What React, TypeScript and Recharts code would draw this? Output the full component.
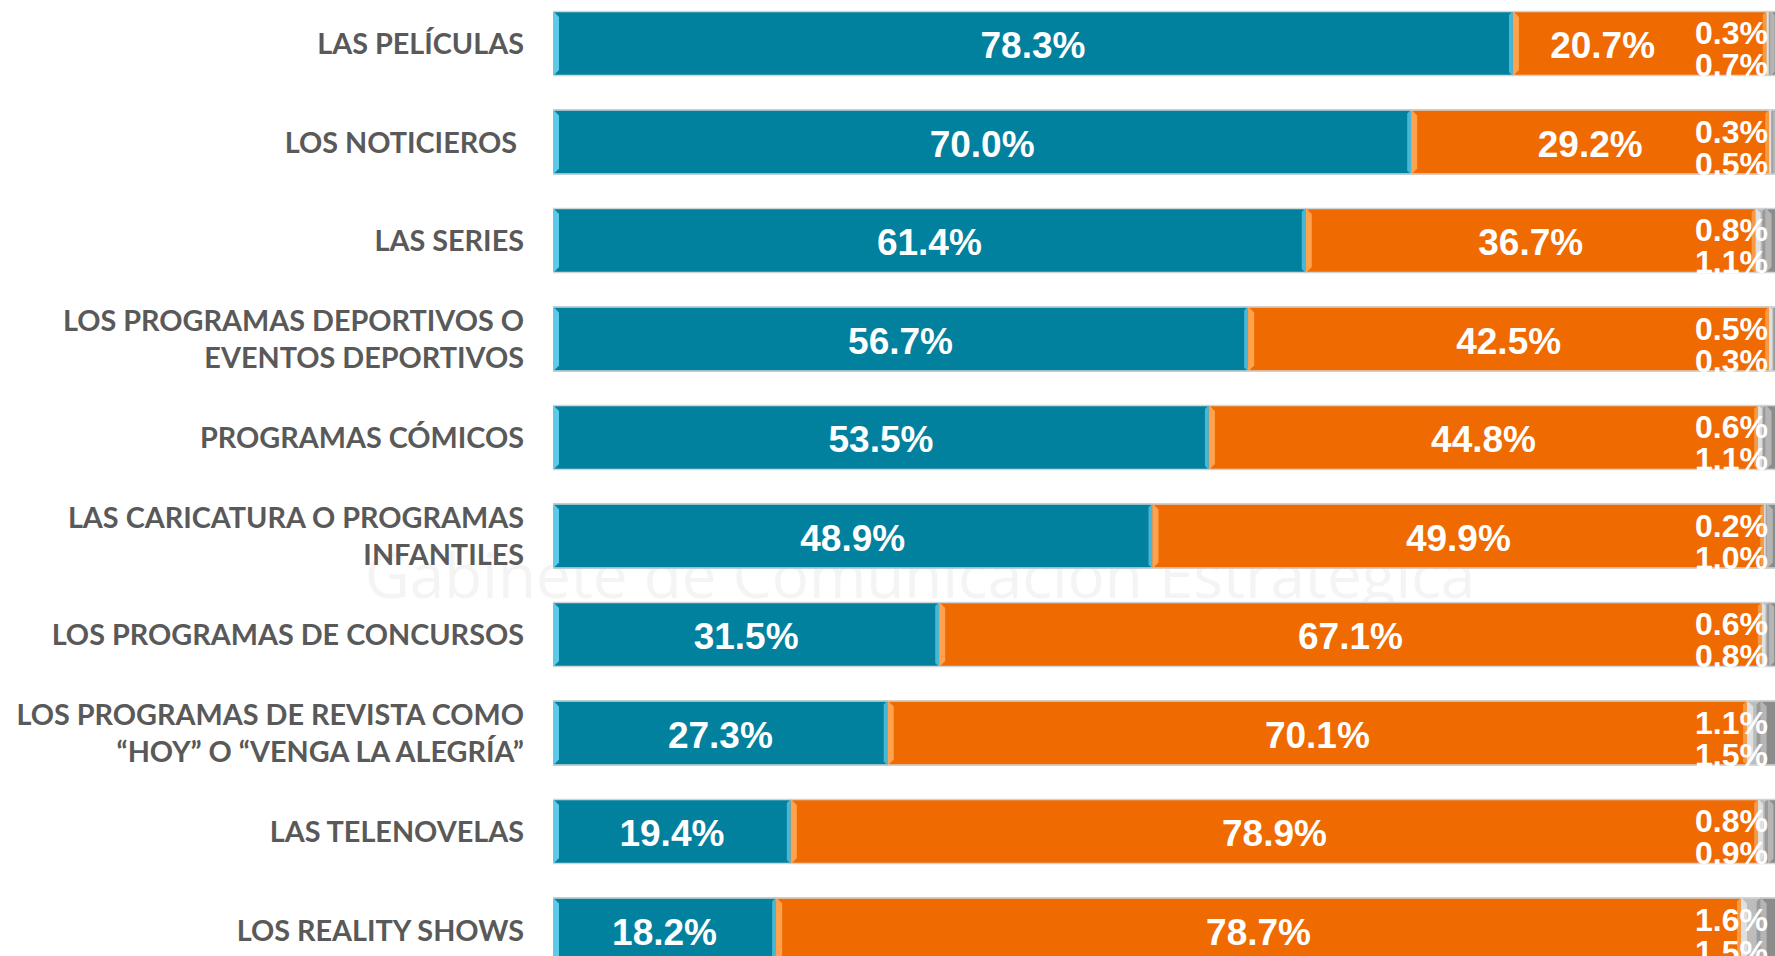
import { BarChart, Bar, XAxis, YAxis, LabelList } from 'recharts';

const categories = [
  'LAS PELÍCULAS',
  'LOS NOTICIEROS\u00A0',
  'LAS SERIES',
  'LOS PROGRAMAS DEPORTIVOS O\nEVENTOS DEPORTIVOS',
  'PROGRAMAS CÓMICOS',
  'LAS CARICATURA O PROGRAMAS\nINFANTILES',
  'LOS PROGRAMAS DE CONCURSOS',
  'LOS PROGRAMAS DE REVISTA COMO\n“HOY” O “VENGA LA ALEGRÍA”',
  'LAS TELENOVELAS',
  'LOS REALITY SHOWS',
];

const siValues = [78.3, 70.0, 61.4, 56.7, 53.5, 48.9, 31.5, 27.3, 19.4, 18.2];
const noValues = [20.7, 29.2, 36.7, 42.5, 44.8, 49.9, 67.1, 70.1, 78.9, 78.7];
const nsValues = [0.3, 0.3, 0.8, 0.5, 0.6, 0.2, 0.6, 1.1, 0.8, 1.6];
const ncValues = [0.7, 0.5, 1.1, 0.3, 1.1, 1.0, 0.8, 1.5, 0.9, 1.5];

const data = categories.map((name, i) => ({
  name,
  si: siValues[i],
  no: noValues[i],
  ns: nsValues[i],
  nc: ncValues[i],
}));

const CHART_W = 1779;
const AXIS_W = 553;
const LABEL_RIGHT = 524;
const SMALL_RIGHT = 1768;
const BIG_FONT = 37;
const SMALL_FONT = 32;
const pct = (v: number) => `${v.toFixed(1)}%`;
const FONT = "'Liberation Sans', Arial, sans-serif";

function CategoryTick({ y, payload }: any) {
  const lines = String(payload.value).split('\n');
  const lh = 37;
  const start = y - ((lines.length - 1) * lh) / 2;
  return (
    <text
      x={LABEL_RIGHT}
      y={start}
      textAnchor="end"
      fill="#595959"
      fontFamily="Lato, 'DejaVu Sans', sans-serif"
      fontWeight={700}
      fontSize={28.8}
      dominantBaseline="central"
    >
      {lines.map((l, i) => (
        <tspan key={i} x={LABEL_RIGHT} dy={i === 0 ? 0 : lh}>
          {l}
        </tspan>
      ))}
    </text>
  );
}

function bevelShape(light: string, edge: string) {
  return (props: any) => {
    const { x, y, width, height, fill } = props;
    if (!width || width <= 0) return <g />;
    const b = Math.min(6, width / 2);
    const r = Math.min(4, width / 3);
    return (
      <g>
        <rect x={x} y={y} width={width} height={height} fill={fill} />
        <polygon
          points={`${x},${y} ${x + b},${y + b} ${x + b},${y + height - b} ${x},${y + height}`}
          fill={light}
        />
        <polygon
          points={`${x + width},${y} ${x + width - r},${y + r} ${x + width - r},${y + height - r} ${x + width},${y + height}`}
          fill={edge}
        />
        <line x1={x} x2={x + width} y1={y + 0.5} y2={y + 0.5} stroke="#cfd6d9" strokeWidth={1.5} />
        <line x1={x} x2={x + width} y1={y + height - 0.5} y2={y + height - 0.5} stroke="#cfd6d9" strokeWidth={1.5} />
      </g>
    );
  };
}

function textWidth(s: string, size: number) {
  let w = 0;
  for (const ch of s) w += ch === '.' ? 0.278 : ch === '%' ? 0.889 : 0.556;
  return w * size;
}

// label centred on its segment, pushed left when it would run into the small labels
function bigLabel(avoidSmall: boolean) {
  return (props: any) => {
    const { x, y, width, height, value } = props;
    const txt = pct(Number(value));
    const half = textWidth(txt, BIG_FONT) / 2;
    let cx = x + width / 2;
    if (avoidSmall) {
      const maxCx = SMALL_RIGHT - textWidth('0.0%', SMALL_FONT) - 40 - half;
      cx = Math.min(cx, maxCx);
    }
    return (
      <text
        x={cx}
        y={y + height / 2 + 2}
        textAnchor="middle"
        dominantBaseline="central"
        fill="#ffffff"
        fontSize={BIG_FONT}
        fontWeight={700}
        fontFamily={FONT}
      >
        {txt}
      </text>
    );
  };
}

function smallLabel(top: boolean) {
  return (props: any) => {
    const { y, height, value } = props;
    const ty = top ? y + 22 : y + height - 11;
    return (
      <text
        x={SMALL_RIGHT}
        y={ty}
        textAnchor="end"
        dominantBaseline="central"
        fill="#ffffff"
        fontSize={SMALL_FONT}
        fontWeight={700}
        fontFamily={FONT}
      >
        {pct(Number(value))}
      </text>
    );
  };
}

export default function App() {
  return (
    <div
      style={{
        position: 'fixed',
        left: 0,
        top: 0,
        width: 1775,
        height: 956,
        overflow: 'hidden',
        background: '#ffffff',
      }}
    >
      <div
        style={{
          position: 'absolute',
          left: 330,
          top: 532,
          width: 1180,
          textAlign: 'center',
          fontFamily: "'Open Sans', sans-serif",
          fontSize: 62,
          color: '#f4f4f4',
          whiteSpace: 'nowrap',
        }}
      >
        Gabinete de Comunicación Estratégica
      </div>
      <div style={{ position: 'absolute', left: 0, top: -6 }}>
        <BarChart
          width={CHART_W}
          height={985}
          data={data}
          layout="vertical"
          margin={{ top: 0, right: 0, bottom: 0, left: 0 }}
          barSize={65}
        >
          <XAxis type="number" domain={[0, 100]} hide />
          <YAxis
            type="category"
            dataKey="name"
            width={AXIS_W}
            axisLine={false}
            tickLine={false}
            tick={<CategoryTick />}
            interval={0}
          />
          <Bar dataKey="si" stackId="a" fill="#02819f" shape={bevelShape('#5ccbe9', '#48b6d6')} isAnimationActive={false}>
            <LabelList dataKey="si" content={bigLabel(false)} />
          </Bar>
          <Bar dataKey="no" stackId="a" fill="#f06a02" shape={bevelShape('#ffa24d', '#f79a45')} isAnimationActive={false}>
            <LabelList dataKey="no" content={bigLabel(true)} />
          </Bar>
          <Bar dataKey="ns" stackId="a" fill="#bdbdbd" shape={bevelShape('#e0e0e0', '#9a9a9a')} isAnimationActive={false}>
            <LabelList dataKey="ns" content={smallLabel(true)} />
          </Bar>
          <Bar dataKey="nc" stackId="a" fill="#8c8c8c" shape={bevelShape('#b5b5b5', '#666666')} isAnimationActive={false}>
            <LabelList dataKey="nc" content={smallLabel(false)} />
          </Bar>
        </BarChart>
      </div>
    </div>
  );
}
